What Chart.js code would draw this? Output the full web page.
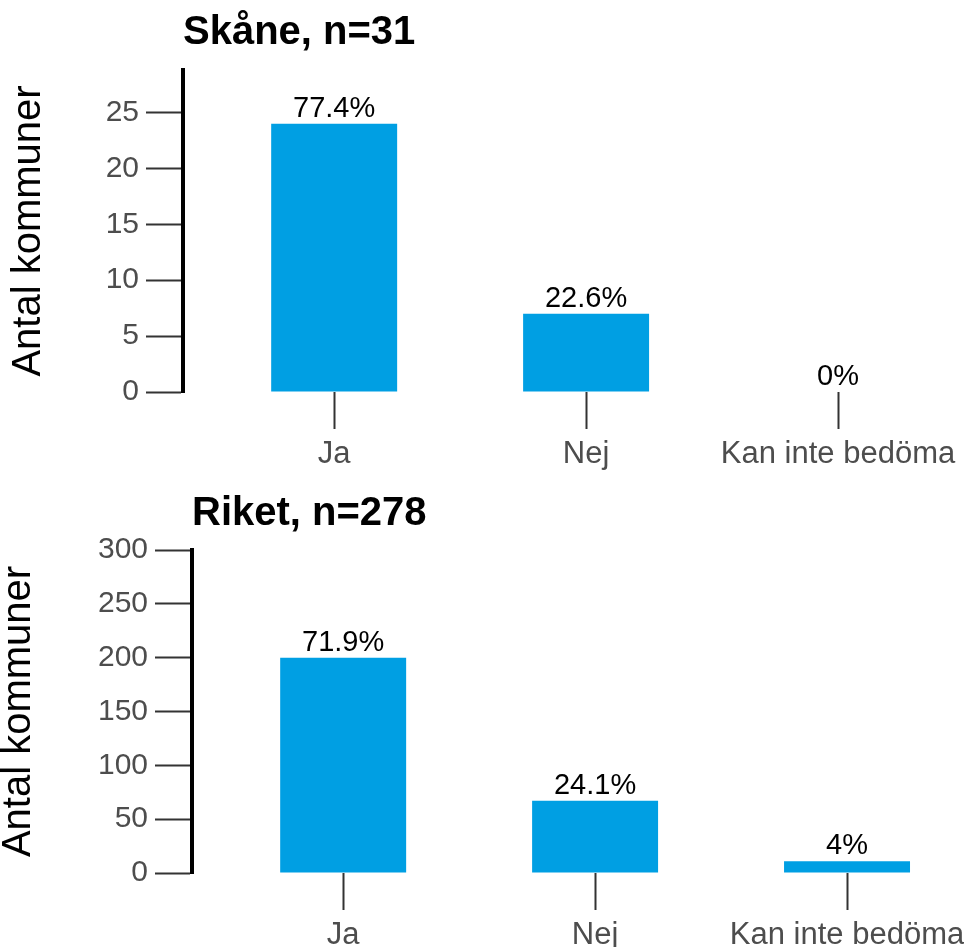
<!DOCTYPE html>
<html>
<head>
<meta charset="utf-8">
<script src="https://cdn.jsdelivr.net/npm/chart.js"></script>
<style>
  html, body { margin: 0; padding: 0; background: #fff; overflow: hidden; }
  .panel { position: absolute; left: 0; }
  #skane { top: 0; width: 964px; height: 473px; }
  #riket { top: 473px; width: 973px; height: 474px; }
</style>
</head>
<body>
<div class="panel" id="skane"><canvas id="chartSkane"></canvas></div>
<div class="panel" id="riket"><canvas id="chartRiket"></canvas></div>
<script>
// data
const categories = ['Ja', 'Nej', 'Kan inte bedöma'];

const skaneCounts = [24, 7, 0];
const skanePct = ['77.4%', '22.6%', '0%'];
const skaneTicks = [0, 5, 10, 15, 20, 25];

const riketCounts = [200, 67, 11];
const riketPct = ['71.9%', '24.1%', '4%'];
const riketTicks = [0, 50, 100, 150, 200, 250, 300];

const FONT = '"Liberation Sans", Arial, sans-serif';
const BLUE = '#009fe3';

// percentage text above each bar
const barLabels = {
    id: 'barLabels',
    afterDatasetsDraw(chart, args, opts) {
        const ctx = chart.ctx;
        const meta = chart.getDatasetMeta(0);
        ctx.save();
        ctx.font = '29px ' + FONT;
        ctx.fillStyle = '#000';
        ctx.textAlign = 'center';
        ctx.textBaseline = 'alphabetic';
        meta.data.forEach((bar, i) => ctx.fillText(opts.labels[i], bar.x, bar.y - 7));
        ctx.restore();
    }
};

function makeChart(id, cfg) {
    return new Chart(document.getElementById(id), {
        type: 'bar',
        data: {
            datasets: [{
                data: cfg.counts.map((v, i) => ({ x: i, y: v })),
                backgroundColor: BLUE,
                borderWidth: 0,
                categoryPercentage: 1,
                barPercentage: 0.5
            }]
        },
        options: {
            responsive: true,
            maintainAspectRatio: false,
            animation: false,
            layout: { padding: 0 },
            plugins: {
                legend: { display: false },
                tooltip: { enabled: false },
                title: {
                    display: true,
                    text: cfg.title,
                    align: 'start',
                    fullSize: false,
                    color: '#000',
                    font: { family: FONT, size: 40, weight: 'bold', lineHeight: 1.2 },
                    padding: { top: cfg.titleTop, bottom: cfg.titleBottom }
                },
                barLabels: { labels: cfg.pct }
            },
            scales: {
                x: {
                    type: 'linear',
                    min: -0.6,
                    max: 2.5,
                    offset: false,
                    grid: { offset: false, drawOnChartArea: false, tickLength: 37, tickColor: '#333', tickWidth: 2 },
                    border: { display: false },
                    ticks: {
                        color: '#4d4d4d',
                        font: { family: FONT, size: 31 },
                        padding: 7,
                        autoSkip: false,
                        maxRotation: 0,
                        callback: v => categories[v]
                    },
                    afterBuildTicks: s => { s.ticks = categories.map((c, i) => ({ value: i })); },
                    afterFit: s => { s.height = cfg.xHeight; }
                },
                y: {
                    min: 0,
                    max: cfg.yMax,
                    grid: { drawOnChartArea: false, tickLength: 37, tickColor: '#333', tickWidth: 2 },
                    border: { color: '#000', width: 4 },
                    ticks: { color: '#4d4d4d', font: { family: FONT, size: 30 }, padding: 7 },
                    title: {
                        display: true,
                        text: 'Antal kommuner',
                        color: '#000',
                        font: { family: FONT, size: 40, lineHeight: 0.9 },
                        padding: { top: cfg.yTitlePad, bottom: 0 }
                    },
                    afterBuildTicks: s => { s.ticks = cfg.ticks.map(v => ({ value: v })); },
                    afterFit: s => { s.width = cfg.yWidth; }
                }
            }
        },
        plugins: [barLabels]
    });
}

makeChart('chartSkane', {
    title: 'Skåne, n=31',
    counts: skaneCounts, pct: skanePct, ticks: skaneTicks,
    yMax: 28.8, yWidth: 183, xHeight: 81,
    titleTop: 9, titleBottom: 13, yTitlePad: 10.5
});

makeChart('chartRiket', {
    title: 'Riket, n=278',
    counts: riketCounts, pct: riketPct, ticks: riketTicks,
    yMax: 300, yWidth: 192, xHeight: 74,
    titleTop: 16.5, titleBottom: 12.5, yTitlePad: 1
});
</script>
</body>
</html>
